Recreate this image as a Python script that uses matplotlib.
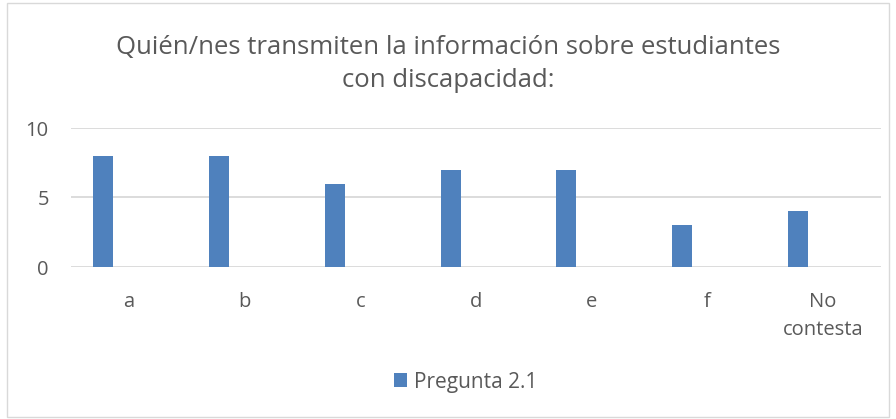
import matplotlib
matplotlib.use("Agg")
import matplotlib.pyplot as plt
import numpy as np
from matplotlib.patches import Rectangle

categories = ["a", "b", "c", "d", "e", "f", "No\ncontesta"]
values = [8, 8, 6, 7, 7, 3, 4]
series_name = "Pregunta 2.1"
title = "Quién/nes transmiten la información sobre estudiantes\ncon discapacidad:"
yticks = [0, 5, 10]

plt.rcParams["font.family"] = ["Open Sans", "DejaVu Sans"]
text_color = "#595959"
bar_color = "#4F81BD"
grid_color = "#D9D9D9"

fig = plt.figure(figsize=(8.96, 4.19), dpi=100)
ax = fig.add_axes([71 / 896, 1 - 267 / 419, 810 / 896, 139 / 419])

x = np.arange(len(categories))
bars = ax.bar(x - 0.22, values, width=0.173, color=bar_color, zorder=3, label=series_name)

ax.set_xlim(-0.5, len(categories) - 0.5)
ax.set_ylim(0, 10)
ax.set_yticks(yticks)
ax.set_xticks(x)
ax.set_xticklabels(categories, linespacing=1.5)
ax.tick_params(axis="both", length=0, colors=text_color, labelsize=14.5)
ax.tick_params(axis="x", pad=18)
ax.tick_params(axis="y", pad=16)
ax.grid(axis="y", color=grid_color, linewidth=1.3, zorder=0)
for s in ax.spines.values():
    s.set_visible(False)

fig.text(0.5, 1 - 64 / 419, title, ha="center", va="center", fontsize=18.5,
         color=text_color, linespacing=1.38)

leg = fig.legend(handles=[bars], labels=[series_name], loc="center",
                 bbox_to_anchor=(466 / 896, 1 - 382 / 419), frameon=False,
                 fontsize=15, handlelength=0.62, handleheight=0.62,
                 handletextpad=0.35)
for t in leg.get_texts():
    t.set_color(text_color)

fig.patches.append(Rectangle((7 / 896, 2 / 419), 882 / 896, 414 / 419,
                             transform=fig.transFigure, fill=False,
                             edgecolor="#D9D9D9", linewidth=1))

fig.savefig("out.png", dpi=100, facecolor="white")
